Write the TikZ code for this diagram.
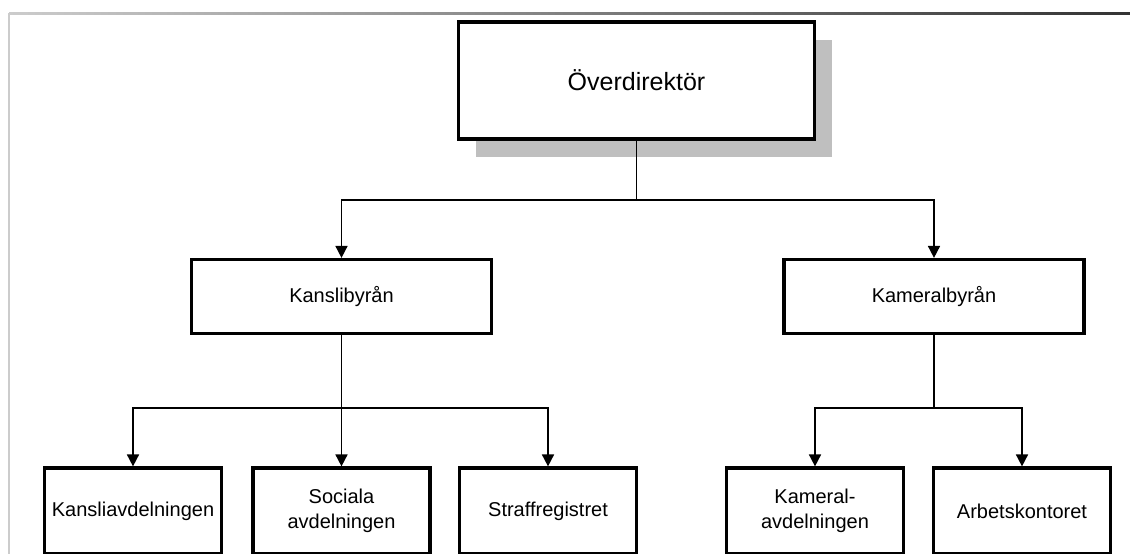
\documentclass[tikz,border=0pt]{standalone}
\usepackage{fontspec}
\setmainfont{Liberation Sans}
\usetikzlibrary{arrows.meta,shadows}
\begin{document}
\begin{tikzpicture}[x=1pt,y=-1pt,
        box/.style={draw, line width=3.2pt, fill=white, inner sep=0pt, align=center, font=\fontsize{20}{25}\selectfont},
        pil/.style={line width=1.7pt, -{Triangle[width=12pt,length=12pt]}},
        linje/.style={line width=1.7pt}]
        \useasboundingbox (0,0) rectangle (1130,554);

        %Ram
        \shade[left color=black!20, right color=black!80] (9,12) rectangle (1130,14);
        \fill[black!20] (8,13) rectangle (10,554);

        %Kästen
        \node[box, minimum width=356pt, minimum height=117pt, font=\fontsize{25}{30}\selectfont,
              drop shadow={shadow xshift=17pt, shadow yshift=-18pt, fill=black!25, opacity=1}] (over) at (636.5,80.5) {Överdirektör};

        \node[box, minimum width=300pt, minimum height=74pt] (kansli) at (341.5,296.5) {Kanslibyrån};
        \node[box, minimum width=300pt, minimum height=74pt] (kameral) at (934,296.5) {Kameralbyrån};

        \node[box, minimum width=177pt, minimum height=86pt] (kanslia) at (133,511) {Kansliavdelningen};
        \node[box, minimum width=177pt, minimum height=86pt] (sociala) at (341.5,511) {Sociala\\avdelningen};
        \node[box, minimum width=177pt, minimum height=86pt] (straff) at (548,511) {Straffregistret};
        \node[box, minimum width=177pt, minimum height=86pt] (kamavd) at (815,511) {Kameral-\\avdelningen};
        \node[box, minimum width=177pt, minimum height=86pt] (arbete) at (1022,511) {Arbetskontoret};

        %Linjen
        \coordinate (j1) at (636.5,200);
        \draw[linje] (over.south) -- (j1);
        \draw[pil] (j1) -| (kansli.north);
        \draw[pil] (j1) -| (kameral.north);

        \coordinate (j2) at (341.5,408);
        \draw[linje] (kansli.south) -- (j2);
        \draw[pil] (j2) -| (kanslia.north);
        \draw[pil] (j2) -- (sociala.north);
        \draw[pil] (j2) -| (straff.north);

        \coordinate (j3) at (934,408);
        \draw[linje] (kameral.south) -- (j3);
        \draw[pil] (j3) -| (kamavd.north);
        \draw[pil] (j3) -| (arbete.north);
    \end{tikzpicture}
\end{document}
